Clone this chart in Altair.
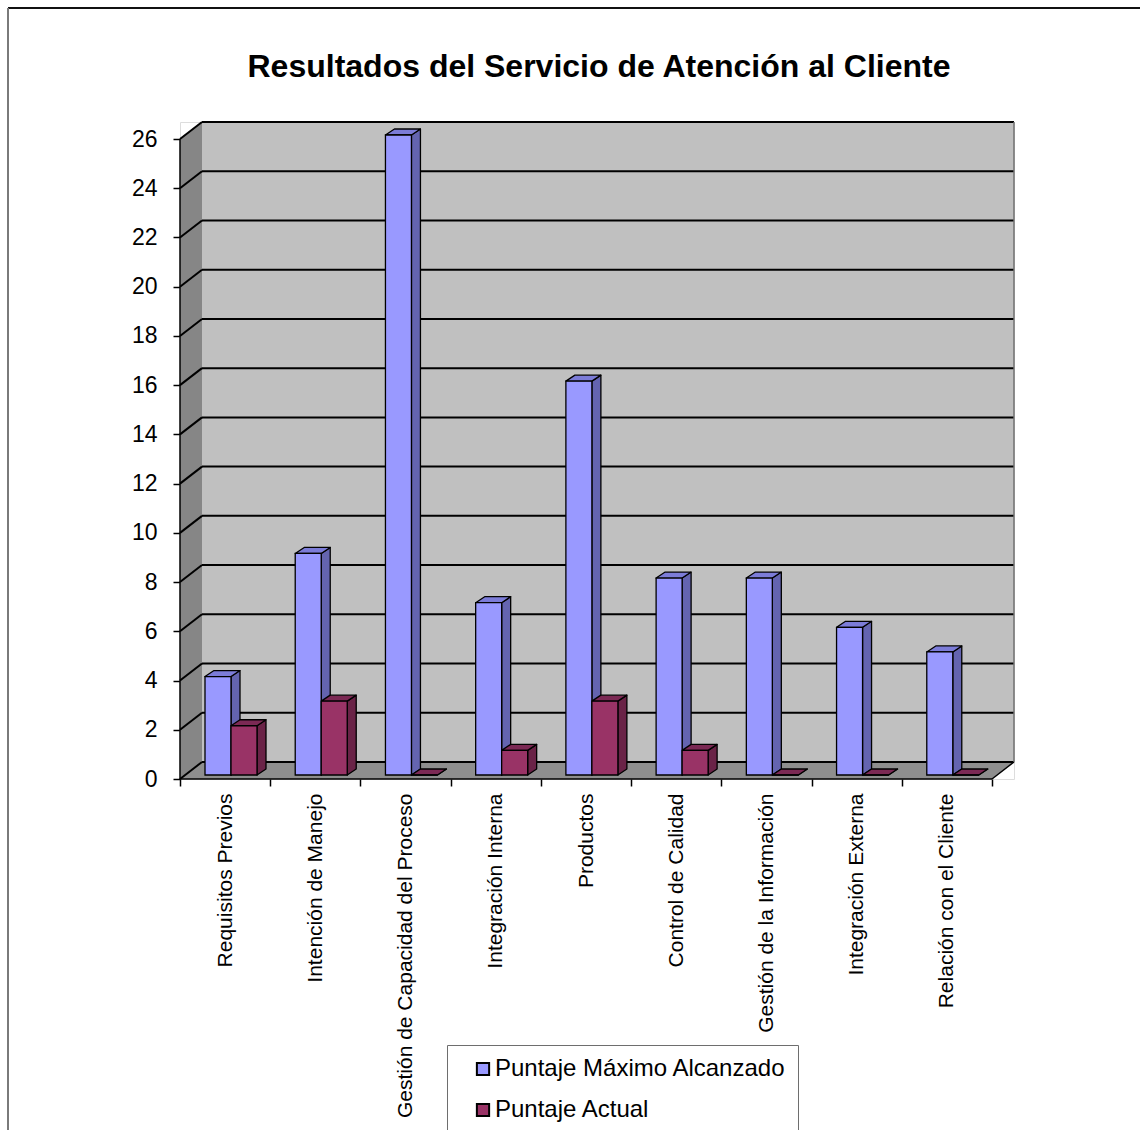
import json
import altair as alt
import pandas as pd

# ---------------- data ----------------
categories = [
    "Requisitos Previos",
    "Intención de Manejo",
    "Gestión de Capacidad del Proceso",
    "Integración Interna",
    "Productos",
    "Control de Calidad",
    "Gestión de la Información",
    "Integración Externa",
    "Relación con el Cliente",
]
puntaje_maximo = [4, 9, 26, 7, 16, 8, 8, 6, 5]
puntaje_actual = [2, 3, 0, 1, 3, 1, 0, 0, 0]
series = ["Puntaje Máximo Alcanzado", "Puntaje Actual"]
series_values = [puntaje_maximo, puntaje_actual]
y_ticks = list(range(0, 27, 2))
title_text = "Resultados del Servicio de Atención al Cliente"

# ---------------- style ----------------
front_colors = ["#9999FF", "#993366"]
side_colors = ["#6464B0", "#6A2347"]
top_colors = ["#7C7CD8", "#7B2954"]
FONT = "Liberation Sans"

W, H = 834, 657          # plot area (front axes + 3-D depth)
N = len(categories)
YMAX = y_ticks[-1]
WALL_DX_PX, WALL_DY_PX = 22, 17
PX_X = (W - WALL_DX_PX) / N
PX_Y = (H - WALL_DY_PX) / YMAX
WDX = WALL_DX_PX / PX_X
WDY = WALL_DY_PX / PX_Y
BAR_LEFT = 25 / PX_X
BAR_W = 26 / PX_X
BAR_Y0 = 4 / PX_Y
DDX = 9 / PX_X
DDY = 6 / PX_Y

xs = alt.Scale(domain=[0, N + WDX], nice=False, zero=False)
ys = alt.Scale(domain=[0, YMAX + WDY], nice=False, zero=False)

# ---------------- tables ----------------
fronts, sides, tops = [], [], []
for k, (s, vals) in enumerate(zip(series, series_values)):
    for i, (c, v) in enumerate(zip(categories, vals)):
        xl = i + BAR_LEFT + k * BAR_W
        xr = xl + BAR_W
        key = f"{k}-{i}"
        fronts.append(dict(categoria=c, serie=s, valor=v, fx0=xl, fx1=xr,
                           fy0=BAR_Y0, fy1=BAR_Y0 + v))
        sides.append(dict(key=key, sx=xr, sy=BAR_Y0, sy2=BAR_Y0 + v, col=side_colors[k]))
        sides.append(dict(key=key, sx=xr + DDX, sy=BAR_Y0 + DDY, sy2=BAR_Y0 + v + DDY,
                          col=side_colors[k]))
        tops.append(dict(key=key, ty=BAR_Y0 + v, tx=xl, tx2=xr, col=top_colors[k]))
        tops.append(dict(key=key, ty=BAR_Y0 + v + DDY, tx=xl + DDX, tx2=xr + DDX,
                         col=top_colors[k]))
fronts = pd.DataFrame(fronts)
sides = pd.DataFrame(sides)
tops = pd.DataFrame(tops)

back_wall = pd.DataFrame([dict(x0=WDX, x1=N + WDX, y0=WDY, y1=YMAX + WDY)])
left_wall = pd.DataFrame([dict(x=0, y=0, y2=YMAX), dict(x=WDX, y=WDY, y2=YMAX + WDY)])
floor = pd.DataFrame([dict(y=0, x=0, x2=N), dict(y=WDY, x=WDX, x2=N + WDX)])
grid_back = pd.DataFrame([dict(x=WDX, x2=N + WDX, y=v + WDY) for v in y_ticks])
grid_left = pd.DataFrame([dict(x=0, x2=WDX, y=v, y2=v + WDY) for v in y_ticks])
edges = pd.DataFrame([
    dict(ex=0, ex2=N, ey=0, ey2=0, c="#000000"),                      # front x axis
    dict(ex=0, ex2=0, ey=0, ey2=YMAX, c="#000000"),                   # front y axis
    dict(ex=N, ex2=N + WDX, ey=0, ey2=WDY, c="#000000"),              # floor right edge
    dict(ex=N + WDX, ex2=N + WDX, ey=WDY, ey2=YMAX + WDY, c="#707070"),  # back wall right edge
])

# ---------------- axes ----------------
y_axis = alt.Axis(values=y_ticks, title=None, domain=False, grid=False, tickSize=7,
                  tickWidth=1.5, tickColor="black", labelFontSize=23, labelPadding=16,
                  labelColor="black", labelFont=FONT, orient="left")
x_tick_axis = alt.Axis(values=list(range(N + 1)), title=None, domain=False, grid=False,
                       labels=False, tickSize=7, tickWidth=1.5, tickColor="black",
                       orient="bottom")
label_expr = json.dumps(categories) + "[round(datum.value - 0.5)]"
x_label_axis = alt.Axis(values=[i + 0.5 for i in range(N)], title=None, domain=False,
                        grid=False, ticks=False, tickSize=0, labelAngle=270,
                        labelAlign="right", labelBaseline="middle", labelPadding=14,
                        labelFontSize=21, labelFont=FONT, labelColor="black",
                        labelLimit=500, labelOverlap=False, labelFlush=False,
                        labelExpr=label_expr, orient="bottom")

# ---------------- layers ----------------
back = alt.Chart(back_wall).mark_rect(fill="#C0C0C0").encode(
    x=alt.X("x0:Q", scale=xs, axis=x_tick_axis), x2="x1:Q",
    y=alt.Y("y0:Q", scale=ys, axis=y_axis), y2="y1:Q")

lwall = alt.Chart(left_wall).mark_area(orient="vertical", fill="#868686").encode(
    x=alt.X("x:Q", scale=xs, axis=None),
    y=alt.Y("y:Q", scale=ys, axis=None), y2="y2:Q")

flr = alt.Chart(floor).mark_area(orient="horizontal", fill="#8E8E8E").encode(
    y=alt.Y("y:Q", scale=ys, axis=None),
    x=alt.X("x:Q", scale=xs, axis=x_label_axis), x2="x2:Q")

gb = alt.Chart(grid_back).mark_rule(color="black", strokeWidth=2).encode(
    x=alt.X("x:Q", scale=xs, axis=None), x2="x2:Q",
    y=alt.Y("y:Q", scale=ys, axis=None))

gl = alt.Chart(grid_left).mark_rule(color="black", strokeWidth=2).encode(
    x=alt.X("x:Q", scale=xs, axis=None), x2="x2:Q",
    y=alt.Y("y:Q", scale=ys, axis=None), y2="y2:Q")

ed = alt.Chart(edges).mark_rule(strokeWidth=1.5).encode(
    x=alt.X("ex:Q", scale=xs, axis=None), x2="ex2:Q",
    y=alt.Y("ey:Q", scale=ys, axis=None), y2="ey2:Q",
    color=alt.Color("c:N", scale=None))

side_l = alt.Chart(sides).mark_area(orient="vertical", stroke="black", strokeWidth=1.3,
                                    strokeJoin="round").encode(
    x=alt.X("sx:Q", scale=xs, axis=None),
    y=alt.Y("sy:Q", scale=ys, axis=None), y2="sy2:Q",
    detail="key:N",
    fill=alt.Fill("col:N", scale=None))

top_l = alt.Chart(tops).mark_area(orient="horizontal", stroke="black", strokeWidth=1.3,
                                  strokeJoin="round").encode(
    y=alt.Y("ty:Q", scale=ys, axis=None),
    x=alt.X("tx:Q", scale=xs, axis=None), x2="tx2:Q",
    detail="key:N",
    fill=alt.Fill("col:N", scale=None))

front_l = alt.Chart(fronts).mark_rect(stroke="black", strokeWidth=1.3).encode(
    x=alt.X("fx0:Q", scale=xs, axis=None), x2="fx1:Q",
    y=alt.Y("fy0:Q", scale=ys, axis=None), y2="fy1:Q",
    fill=alt.Fill("serie:N", scale=alt.Scale(domain=series, range=front_colors),
                  legend=alt.Legend(title=None, orient="none", legendX=267, legendY=923,
                                    fillColor="white", strokeColor="#6E6E6E",
                                    padding=12, symbolType="square", symbolSize=150,
                                    symbolStrokeColor="black", symbolStrokeWidth=2,
                                    symbolOffset=12, labelOffset=0,
                                    labelFontSize=24, labelFont=FONT, labelColor="black",
                                    rowPadding=17, labelLimit=500)),
    tooltip=["categoria:N", "serie:N", "valor:Q"])

title_l = alt.Chart(pd.DataFrame([dict(t=title_text)])).mark_text(
    font=FONT, fontSize=32, fontWeight="bold", align="center", baseline="alphabetic",
    color="black").encode(text="t:N", x=alt.value(419), y=alt.value(-45))

border_top = alt.Chart(pd.DataFrame([dict(a=1)])).mark_rule(color="#111111", strokeWidth=2).encode(
    x=alt.value(-172), x2=alt.value(970), y=alt.value(-114))
border_left = alt.Chart(pd.DataFrame([dict(a=1)])).mark_rule(color="#7A7A7A", strokeWidth=2).encode(
    x=alt.value(-172), y=alt.value(-114), y2=alt.value(1010))

chart = alt.layer(
    back, lwall, flr, gb, gl, ed, side_l, top_l, front_l, title_l, border_top, border_left
).resolve_axis(x="independent", y="independent").properties(
    width=W, height=H,
    padding={"left": 180, "top": 122, "right": 126, "bottom": 351},
    autosize=alt.AutoSizeParams(type="none"),
    background="white",
).configure_view(stroke=None).configure(font=FONT)

chart.save("out.html", embed_options={"renderer": "svg", "actions": False})
